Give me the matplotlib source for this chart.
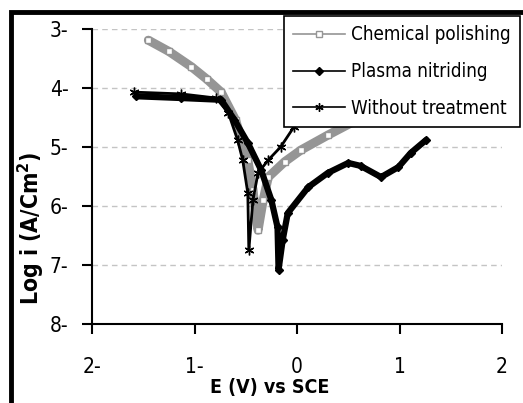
import matplotlib
matplotlib.use("Agg")
import matplotlib.pyplot as plt
from matplotlib.lines import Line2D
from matplotlib.patches import Rectangle

plt.rcParams['font.family'] = ['DejaVu Sans']
plt.rcParams['font.stretch'] = 'condensed'

# polarisation curves, E (V vs SCE) against log i
chem_e = [-1.45, -1.25, -1.03, -0.88, -0.74, -0.60, -0.48, -0.43, -0.38,
          -0.33, -0.28, -0.12, 0.04, 0.30, 0.53, 0.80]
chem_logi = [-3.19, -3.38, -3.64, -3.85, -4.07, -4.54, -5.22, -5.73, -6.41,
             -5.90, -5.51, -5.25, -5.05, -4.80, -4.59, -4.25]

plasma_e = [-1.57, -1.13, -0.74, -0.61, -0.48, -0.35, -0.25, -0.19, -0.18,
            -0.14, -0.09, 0.11, 0.30, 0.50, 0.62, 0.82, 0.99, 1.11, 1.26]
plasma_logi = [-4.14, -4.17, -4.20, -4.54, -4.93, -5.39, -5.90, -6.36, -7.08,
               -6.58, -6.12, -5.68, -5.44, -5.27, -5.32, -5.51, -5.34, -5.10, -4.88]

none_e = [-1.59, -1.13, -0.79, -0.67, -0.58, -0.53, -0.48, -0.47,
          -0.43, -0.38, -0.28, -0.16, -0.03, 0.14, 0.33]
none_logi = [-4.07, -4.10, -4.17, -4.42, -4.88, -5.22, -5.78, -6.75,
             -5.90, -5.44, -5.22, -5.00, -4.66, -4.46, -4.20]

labels = ["Chemical polishing", "Plasma nitriding", "Without treatment"]
x_ticks = [-2, -1, 0, 1, 2]
x_tick_labels = ["2-", "1-", "0", "1", "2"]
y_ticks = [-3, -4, -5, -6, -7, -8]
y_tick_labels = ["3-", "4-", "5-", "6-", "7-", "8-"]

fig = plt.figure(figsize=(5.23, 4.03), dpi=100)
ax = fig.add_axes([92/523, 1-324/403, 410/523, 295/403])

gray = "#959595"
ax.plot(chem_e, chem_logi, color=gray, linewidth=6.5, solid_capstyle="round",
        marker="s", markersize=5, markerfacecolor="white", markeredgecolor=gray)
ax.plot(plasma_e, plasma_logi, color="black", linewidth=4.5, solid_capstyle="round",
        marker="D", markersize=4)
ax.plot(none_e, none_logi, color="black", linewidth=2, marker=(6, 2, 0), markersize=7)

ax.set_xlim(-2, 2)
ax.set_ylim(-8, -3)
ax.set_xticks(x_ticks, x_tick_labels)
ax.set_yticks(y_ticks, y_tick_labels)
ax.yaxis.grid(True, linestyle=(0, (4, 3)), color="#c4c4c4", linewidth=1)
ax.set_axisbelow(True)
for s in ["top", "right"]:
    ax.spines[s].set_visible(False)
for s in ["left", "bottom"]:
    ax.spines[s].set_linewidth(1.5)
ax.tick_params(axis="y", direction="out", length=7, width=1.5, pad=10, labelsize=15)
ax.tick_params(axis="x", direction="out", length=7, width=1.5, pad=17, labelsize=15)

fig.text(270/523, 1-387/403, "E (V) vs SCE", ha="center", va="center",
         fontsize=14, fontweight="bold")
fig.text(31/523, 1-228/403, "Log i (A/Cm$^\\mathbf{2}$)", ha="center", va="center",
         rotation=90, fontsize=16.5, fontweight="bold")

handles = [
    Line2D([], [], color=gray, lw=1.2, marker="s", markersize=5,
           markerfacecolor="white", markeredgecolor=gray),
    Line2D([], [], color="black", lw=1.2, marker="D", markersize=4),
    Line2D([], [], color="black", lw=1.2, marker=(6, 2, 0), markersize=6),
]
leg = ax.legend(handles, labels, loc="upper right",
                bbox_to_anchor=(520/523, 1-16/403), bbox_transform=fig.transFigure,
                fancybox=False, framealpha=1, edgecolor="black", borderaxespad=0,
                fontsize=13.5, handlelength=2.8, handletextpad=0.3,
                labelspacing=0.95, borderpad=0.5)
leg.get_frame().set_linewidth(1.2)

# thick frame round the whole picture, cut off at the right and bottom
fig.patches.append(Rectangle((11/523, -0.1), 1.2, 1.1 - 12.5/403,
                             transform=fig.transFigure, fill=False,
                             edgecolor="black", linewidth=3.5))

fig.savefig("out.png", dpi=100)
